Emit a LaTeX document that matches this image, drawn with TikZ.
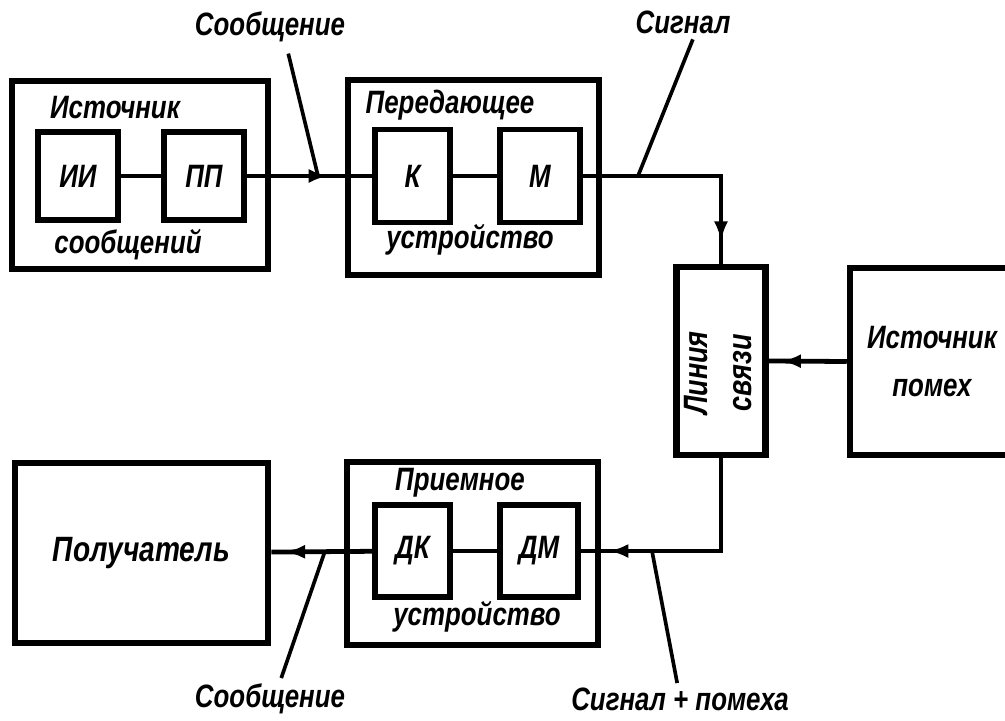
\documentclass[tikz,border=0pt]{standalone}
\usepackage{fontspec}
\setmainfont{Liberation Sans}
\newfontfamily\draftfont{Liberation Sans}[FakeStretch=0.8]
\usetikzlibrary{positioning, arrows.meta, decorations.markings}

\begin{document}
\begin{tikzpicture}[x=0.025cm, y=-0.025cm,
  outer/.style={draw, line width=4.6pt, inner sep=0pt},
  inner/.style={draw, line width=4pt, inner sep=0pt, font=\draftfont\bfseries\itshape\fontsize{23}{25}\selectfont},
  txt/.style={font=\draftfont\bfseries\itshape\fontsize{23}{25}\selectfont, inner sep=1pt},
  conn/.style={line width=3.4pt},
  lead/.style={line width=2.6pt},
  arrat/.style={postaction={decorate, decoration={markings,
      mark=at position #1 with {\arrow{Latex[length=14pt, width=10pt]}}}}}]
  \useasboundingbox (0,0) rectangle (1005,721);

  % source of messages
  \node[outer, minimum width=6.4cm, minimum height=4.7cm] (src) at (140,175) {};
  \node[inner, minimum width=2cm, minimum height=2.2cm] (ii) at (78,176) {ИИ};
  \node[inner, minimum width=2cm, minimum height=2.2cm] (pp) at (204,176) {ПП};
  \node[txt] (srcup) at (115,108) {Источник};
  \node[txt] (srclow) at (128,245) {сообщений};

  % transmitter
  \node[outer, minimum width=6.275cm, minimum height=4.875cm] (tx) at (473.5,177.5) {};
  \node[inner, minimum width=1.875cm, minimum height=2.325cm] (k) at (412.5,176) {К};
  \node[inner, minimum width=2cm, minimum height=2.325cm] (m) at (540,176) {М};
  \node[txt] (txup) at (450,105) {Передающее};
  \node[txt] (txlow) at (470,240) {устройство};

  % channel and noise
  \node[outer, minimum width=2.225cm, minimum height=4.7cm] (chan) at (721,361) {};
  \node[txt, rotate=90, align=center, font=\draftfont\bfseries\itshape\fontsize{24}{31}\selectfont] (chantxt) at (718,373) {Линия\\связи};
  \node[outer, minimum width=4.1cm, minimum height=4.675cm, align=center,
    font=\draftfont\bfseries\itshape\fontsize{23}{34}\selectfont] (noise) at (932,361.5) {Источник\\помех};

  % receiver
  \node[outer, minimum width=6.275cm, minimum height=4.575cm] (rx) at (472.5,553.5) {};
  \node[inner, minimum width=1.875cm, minimum height=2.3cm] (dk) at (412.5,551) {ДК};
  \node[inner, minimum width=1.95cm, minimum height=2.3cm] (dm) at (539,551) {ДМ};
  \node[txt] (rxup) at (460,483) {Приемное};
  \node[txt] (rxlow) at (477,617) {устройство};

  % destination
  \node[outer, minimum width=6.325cm, minimum height=4.5cm,
    font=\draftfont\bfseries\itshape\fontsize{25}{27}\selectfont] (dest) at (141.5,553) {Получатель};

  % connectors
  \draw[conn] (ii) -- (pp);
  \draw[conn, arrat=0.65] (pp) -- (k);
  \draw[conn] (k) -- (m);
  \draw[conn, arrat=0.9] (m.east) -| (chan.north);
  \draw[conn, arrat=0.84] (noise.west) -- (chan.east);
  \draw[conn, arrat=0.88] (chan.south) |- (dm.east);
  \draw[conn] (dm) -- (dk);
  \draw[conn, arrat=0.86] (dk) -- (dest);

  % signal labels
  \node[txt] (msgtop) at (270,27) {Сообщение};
  \coordinate (msgtopfoot) at (318,176);
  \draw[lead] ([xshift=13pt, yshift=-7pt]msgtop.south) -- (msgtopfoot);
  \node[txt] (sigtop) at (683,22) {Сигнал};
  \coordinate (sigtopfoot) at (638,176);
  \draw[lead] ([xshift=7pt, yshift=-3pt]sigtop.south) -- (sigtopfoot);
  \node[txt] (msgbot) at (270,699) {Сообщение};
  \coordinate (msgbotfoot) at (325,551);
  \draw[lead] ([xshift=8pt, yshift=3pt]msgbot.north) -- (msgbotfoot);
  \node[txt] (sigbot) at (680,699) {Сигнал + помеха};
  \coordinate (sigbotfoot) at (652,551);
  \draw[lead] ([xshift=-2pt, yshift=2pt]sigbot.north) -- (sigbotfoot);
\end{tikzpicture}
\end{document}
